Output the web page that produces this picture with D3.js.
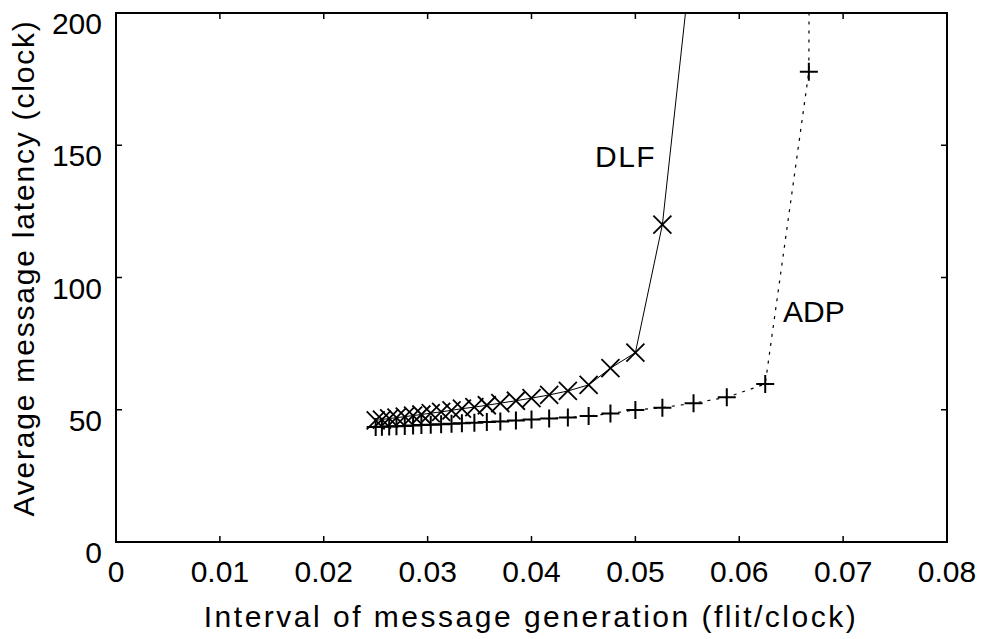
<!DOCTYPE html>
<html>
<head>
<meta charset="utf-8">
<script src="https://cdn.jsdelivr.net/npm/d3@7"></script>
<style>
  body { margin: 0; background: #fff; }
  text { font-family: "Liberation Sans", Arial, sans-serif; fill: #000; }
</style>
</head>
<body>
<div id="chart"></div>
<script>
// data
const dlfX = [0.0250, 0.0256, 0.0263, 0.0270, 0.0278, 0.0286, 0.0294, 0.0303, 0.0313, 0.0323,
              0.0333, 0.0345, 0.0357, 0.0370, 0.0385, 0.0400, 0.0417, 0.0435, 0.0455, 0.0476,
              0.0500, 0.0526, 0.0556]
const dlfY = [46.0, 46.3, 46.7, 47.0, 47.4, 47.8, 48.2, 48.7, 49.2, 49.8,
              50.4, 51.0, 51.7, 52.5, 53.4, 54.4, 55.6, 57.1, 59.4, 65.7,
              71.6, 120.0, 228.0]
const adpX = [0.0250, 0.0256, 0.0263, 0.0270, 0.0278, 0.0286, 0.0294, 0.0303, 0.0313, 0.0323,
              0.0333, 0.0345, 0.0357, 0.0370, 0.0385, 0.0400, 0.0417, 0.0435, 0.0455, 0.0476,
              0.0500, 0.0526, 0.0556, 0.0588, 0.0625, 0.0667, 0.0668]
const adpY = [43.5, 43.6, 43.7, 43.8, 43.9, 44.0, 44.2, 44.3, 44.5, 44.7,
              44.9, 45.1, 45.4, 45.6, 45.9, 46.3, 46.7, 47.1, 47.6, 48.6,
              49.9, 50.8, 52.5, 54.7, 59.7, 177.8, 300.0]
const adpMarkers = 26   // last ADP value is off the chart, line only
const dlfMarkers = 22

const xTicks = [0, 0.01, 0.02, 0.03, 0.04, 0.05, 0.06, 0.07, 0.08]
const xTickLabels = ["0", "0.01", "0.02", "0.03", "0.04", "0.05", "0.06", "0.07", "0.08"]
const yTicks = [0, 50, 100, 150, 200]
const yTickLabels = ["0", "50", "100", "150", "200"]

const width = 984
const height = 639
const mLeft = 116, mRight = 947, mTop = 13, mBottom = 542

const svg = d3.select("#chart")
  .append("svg")
    .attr("width", width)
    .attr("height", height)

const x = d3.scaleLinear().domain([0, 0.08]).range([mLeft, mRight])
const y = d3.scaleLinear().domain([0, 200]).range([mBottom, mTop])

svg.append("clipPath")
    .attr("id", "plot")
  .append("rect")
    .attr("x", mLeft)
    .attr("y", mTop)
    .attr("width", mRight - mLeft)
    .attr("height", mBottom - mTop)

// lines
const line = d3.line()
  .x(d => x(d[0]))
  .y(d => y(d[1]))

const dlf = dlfX.map((v, i) => [v, dlfY[i]])
const adp = adpX.map((v, i) => [v, adpY[i]])

svg.append("path")
    .attr("clip-path", "url(#plot)")
    .attr("d", line(dlf))
    .attr("fill", "none")
    .attr("stroke", "#000")
    .attr("stroke-width", 1)

svg.append("path")
    .attr("clip-path", "url(#plot)")
    .attr("d", line(adp))
    .attr("fill", "none")
    .attr("stroke", "#000")
    .attr("stroke-width", 1.2)
    .attr("stroke-dasharray", "3,6")

// markers
const s = 9
svg.append("g")
  .selectAll("path")
  .data(dlf.slice(0, dlfMarkers))
  .join("path")
    .attr("d", d => {
      const cx = x(d[0]), cy = y(d[1])
      return `M${cx - s},${cy - s}L${cx + s},${cy + s}M${cx - s},${cy + s}L${cx + s},${cy - s}`
    })
    .attr("stroke", "#000")
    .attr("stroke-width", 1.8)

svg.append("g")
  .selectAll("path")
  .data(adp.slice(0, adpMarkers))
  .join("path")
    .attr("d", d => {
      const cx = x(d[0]), cy = y(d[1])
      return `M${cx - s},${cy}L${cx + s},${cy}M${cx},${cy - s}L${cx},${cy + s}`
    })
    .attr("stroke", "#000")
    .attr("stroke-width", 2)

// axes box
svg.append("rect")
    .attr("x", mLeft)
    .attr("y", mTop)
    .attr("width", mRight - mLeft)
    .attr("height", mBottom - mTop)
    .attr("fill", "none")
    .attr("stroke", "#000")
    .attr("stroke-width", 2)

// ticks, pointing inward on all four sides
const tl = 6
xTicks.slice(1, -1).forEach(t => {
  svg.append("line").attr("x1", x(t)).attr("x2", x(t)).attr("y1", mBottom).attr("y2", mBottom - tl)
    .attr("stroke", "#000").attr("stroke-width", 1.5)
  svg.append("line").attr("x1", x(t)).attr("x2", x(t)).attr("y1", mTop).attr("y2", mTop + tl)
    .attr("stroke", "#000").attr("stroke-width", 1.5)
})
yTicks.slice(1, -1).forEach(t => {
  svg.append("line").attr("x1", mLeft).attr("x2", mLeft + tl).attr("y1", y(t)).attr("y2", y(t))
    .attr("stroke", "#000").attr("stroke-width", 1.5)
  svg.append("line").attr("x1", mRight).attr("x2", mRight - tl).attr("y1", y(t)).attr("y2", y(t))
    .attr("stroke", "#000").attr("stroke-width", 1.5)
})

// tick labels
svg.append("g")
  .selectAll("text")
  .data(xTicks)
  .join("text")
    .attr("x", d => x(d))
    .attr("y", mBottom + 40)
    .attr("text-anchor", "middle")
    .attr("font-size", 30)
    .text((d, i) => xTickLabels[i])

svg.append("g")
  .selectAll("text")
  .data(yTicks)
  .join("text")
    .attr("x", mLeft - 14)
    .attr("y", d => y(d) + 21)
    .attr("text-anchor", "end")
    .attr("font-size", 30)
    .text((d, i) => yTickLabels[i])

// axis titles
svg.append("text")
    .attr("x", 531)
    .attr("y", 627)
    .attr("text-anchor", "middle")
    .attr("font-size", 30)
    .attr("letter-spacing", 2.5)
    .text("Interval of message generation (flit/clock)")

svg.append("text")
    .attr("transform", "translate(34,268) rotate(-90)")
    .attr("text-anchor", "middle")
    .attr("font-size", 30)
    .attr("letter-spacing", 1.8)
    .text("Average message latency (clock)")

// series labels
svg.append("text")
    .attr("x", 595)
    .attr("y", 167)
    .attr("font-size", 30)
    .attr("letter-spacing", 1.5)
    .text("DLF")

svg.append("text")
    .attr("x", 783)
    .attr("y", 322)
    .attr("font-size", 30)
    .text("ADP")
</script>
</body>
</html>
